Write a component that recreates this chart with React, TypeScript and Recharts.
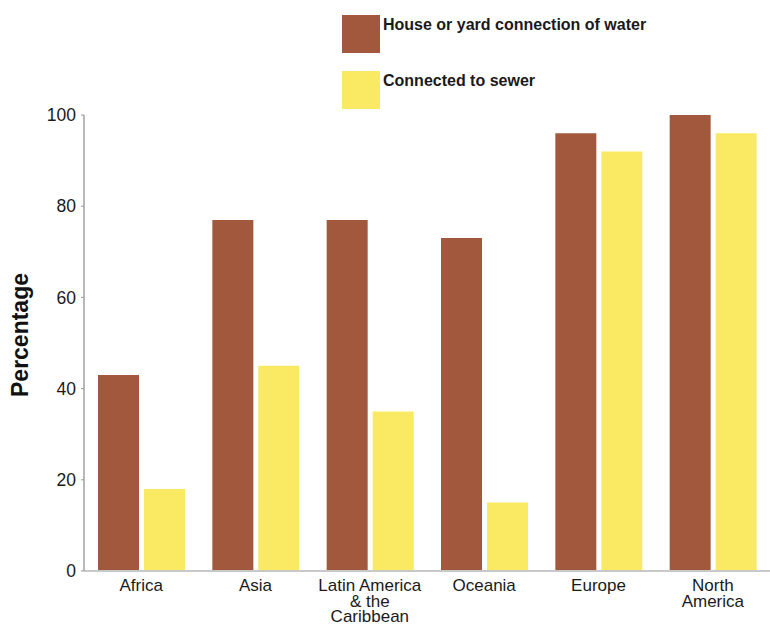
import React from "react";
import { BarChart, Bar, XAxis, YAxis } from "recharts";

const categories = ["Africa", "Asia", "Latin America\n& the\nCaribbean", "Oceania", "Europe", "North\nAmerica"];
const waterConnection = [43, 77, 77, 73, 96, 100];
const sewerConnection = [18, 45, 35, 15, 92, 96];
const yTicks = [0, 20, 40, 60, 80, 100];

const WATER_NAME = "House or yard connection of water";
const SEWER_NAME = "Connected to sewer";
const BROWN = "#A2583D";
const YELLOW = "#FAE962";
const FONT = "'Liberation Sans', Arial, Helvetica, sans-serif";

const data = categories.map((c, i) => ({
  region: c,
  water: waterConnection[i],
  sewer: sewerConnection[i],
}));

const legendItems = [
  { name: WATER_NAME, color: BROWN, top: 15 },
  { name: SEWER_NAME, color: YELLOW, top: 71 },
];

const XTick = (props: any) => {
  const { x, y, payload } = props;
  const lines = String(payload.value).split("\n");
  return (
    <g transform={`translate(${x},${y})`}>
      <text textAnchor="middle" fontFamily={FONT} fontSize={17} fill="#1a1a1a">
        {lines.map((l: string, i: number) => (
          <tspan key={i} x={0} dy={i === 0 ? 12 : 15.5}>
            {l}
          </tspan>
        ))}
      </text>
    </g>
  );
};

const YLabel = (props: any) => {
  const { viewBox } = props;
  const cy = viewBox.y + viewBox.height / 2 - 8;
  return (
    <text
      x={20}
      y={cy}
      transform={`rotate(-90, 20, ${cy})`}
      textAnchor="middle"
      dominantBaseline="central"
      fontFamily={FONT}
      fontSize={23}
      fontWeight="bold"
      fill="#111"
    >
      Percentage
    </text>
  );
};

export default function App() {
  return (
    <div style={{ position: "absolute", left: 0, top: 0, width: 770, height: 626, background: "#fff" }}>
      <BarChart
        width={770}
        height={626}
        data={data}
        margin={{ top: 115, right: 0, bottom: 0, left: 0 }}
        barCategoryGap={14}
        barGap={5}
      >
        <XAxis
          dataKey="region"
          tick={<XTick />}
          tickLine={false}
          axisLine={{ stroke: "#c8c8c8", strokeWidth: 2 }}
          height={55}
          interval={0}
        />
        <YAxis
          domain={[0, 100]}
          ticks={yTicks}
          width={84}
          tick={{ fontFamily: FONT, fontSize: 17.5, fill: "#1a1a1a" }}
          tickLine={{ stroke: "#999" }}
          tickSize={3}
          tickMargin={5}
          axisLine={{ stroke: "#b8b8b8", strokeWidth: 2 }}
          label={<YLabel />}
        />
        <Bar dataKey="water" name={WATER_NAME} fill={BROWN} isAnimationActive={false} />
        <Bar dataKey="sewer" name={SEWER_NAME} fill={YELLOW} isAnimationActive={false} />
      </BarChart>
      {legendItems.map((it) => (
        <div
          key={it.name}
          style={{
            position: "absolute",
            left: 342,
            top: it.top,
            display: "flex",
            alignItems: "flex-start",
            whiteSpace: "nowrap",
            fontFamily: FONT,
            fontWeight: "bold",
            fontSize: 16,
            color: "#1a1a1a",
          }}
        >
          <div style={{ width: 38, height: 38, background: it.color }} />
          <div style={{ marginLeft: 3, marginTop: 1 }}>{it.name}</div>
        </div>
      ))}
    </div>
  );
}
